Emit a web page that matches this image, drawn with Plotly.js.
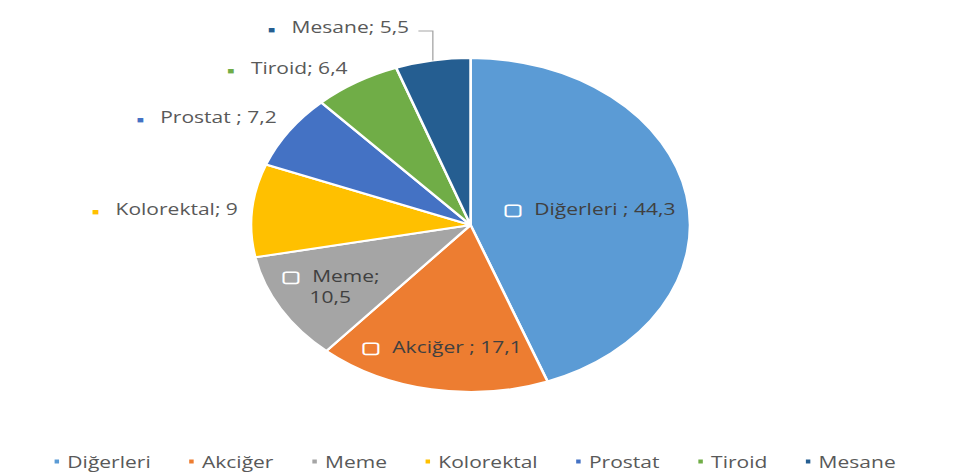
<!DOCTYPE html>
<html>
<head>
<meta charset="utf-8">
<script src="https://cdn.plot.ly/plotly-3.0.1.min.js"></script>
<style>
html,body{margin:0;padding:0;background:#fff;overflow:hidden;}
#wrap{width:958px;height:472px;overflow:hidden;position:relative;}
#chart{width:729px;height:472px;transform:scaleX(1.3141);transform-origin:0 0;}
</style>
</head>
<body>
<div id="wrap"><div id="chart"></div></div>
<script>
// ---- data ----
const categories = ['Diğerleri', 'Akciğer', 'Meme', 'Kolorektal', 'Prostat', 'Tiroid', 'Mesane'];
const values = [44.3, 17.1, 10.5, 9, 7.2, 6.4, 5.5];
const valueLabels = ['44,3', '17,1', '10,5', '9', '7,2', '6,4', '5,5'];
const separators = [' ; ', ' ; ', ';<br>', '; ', ' ; ', '; ', '; '];

// ---- style ----
const colors = ['#5B9BD5', '#ED7D31', '#A5A5A5', '#FFC000', '#4472C4', '#70AD47', '#255E91'];
const labelPlacement = ['inside', 'inside', 'inside', 'outside', 'outside', 'outside', 'leader'];
const labelRadius = [0.55, 0.74, 0.74, 1.1, 1.15, 1.1, 1.186];
const FONT = '"Open Sans", Lato, sans-serif';
const SX = 1.3141;               // horizontal stretch of the picture
const W = 729, H = 472;
const cx = 358.1, cy = 225, r = 167;

const trace = {
  type: 'pie',
  labels: categories,
  values: values,
  textinfo: 'none',
  sort: false,
  direction: 'clockwise',
  rotation: 0,
  marker: {colors: colors, line: {color: '#ffffff', width: 2}},
  domain: {x: [(cx - r) / W, (cx + r) / W], y: [1 - (cy + r) / H, 1 - (cy - r) / H]},
  hoverinfo: 'label+value',
  automargin: false
};

// data labels positioned along each slice's mid-angle (derived from the values)
const total = values.reduce((a, b) => a + b, 0);
const annotations = [];
const shapes = [];
let cum = 0;
values.forEach((v, i) => {
  const mid = (cum + v / 2) / total * 2 * Math.PI;
  cum += v;
  const s = Math.sin(mid), c = Math.cos(mid);
  const k = labelRadius[i];
  const body = categories[i] + separators[i] + valueLabels[i];
  if (labelPlacement[i] === 'inside') {
    annotations.push({
      xref: 'paper', yref: 'paper', x: (cx + r * k * s) / W, y: 1 - (cy - r * k * c) / H,
      xanchor: 'center', yanchor: 'middle', showarrow: false, borderpad: 0,
      text: '<span style="color:#ffffff"><b>▢</b></span>  ' + body,
      font: {family: FONT, size: 16, color: '#404040'}
    });
    return;
  }
  let px, py;
  if (labelPlacement[i] === 'outside') {
    px = cx + r * 1.06 * s; py = cy - r * k * c;
  } else {
    const ex = cx + r * s, ey = cy - r * c;
    py = cy - r * k;
    px = ex - 17;
    const ly = py + 4;
    shapes.push({type: 'path', xref: 'paper', yref: 'paper',
      path: 'M' + ((px + 6) / W) + ',' + (1 - ly / H) + 'L' + (ex / W) + ',' + (1 - ly / H) + 'L' + (ex / W) + ',' + (1 - ey / H),
      line: {color: '#A6A6A6', width: 1}});
  }
  annotations.push({
    xref: 'paper', yref: 'paper', x: px / W, y: 1 - py / H,
    xanchor: 'right', yanchor: 'middle', showarrow: false, borderpad: 0,
    text: '<span style="color:' + colors[i] + ';font-size:9px">■</span>   ' + body,
    font: {family: FONT, size: 16, color: '#595959'}
  });
});

const layout = {
  width: W, height: H,
  margin: {l: 0, r: 0, t: 0, b: 0, autoexpand: false},
  paper_bgcolor: '#ffffff',
  showlegend: true,
  legend: {
    orientation: 'h', x: 0.5, xanchor: 'center', y: 1 - 461.5 / H, yanchor: 'middle',
    font: {family: FONT, size: 16, color: '#595959'},
    traceorder: 'normal'
  },
  annotations: annotations,
  shapes: shapes,
  font: {family: FONT}
};

Plotly.newPlot('chart', [trace], layout, {displayModeBar: false, staticPlot: true}).then(gd => {
  // compact Excel-like legend: small keys, key close to text
  const items = Array.from(gd.querySelectorAll('.legend .traces'));
  const keyGap = 8, itemGap = 31;
  const parse = t => (t || 'translate(0,0)').match(/translate\(\s*([-\d.e]+)[ ,]+([-\d.e]+)/).slice(1).map(Number);
  items.forEach(it => {
    it.querySelector('.legendpoints path').setAttribute('d', 'M2.7,3H-2.7V-3H2.7Z');
  });
  let x = null;
  items.forEach(it => {
    const p = it.querySelector('.legendpoints path').getBoundingClientRect();
    const t = it.querySelector('.legendtext');
    const tb = t.getBoundingClientRect();
    const symC = (p.left + p.right) / 2;
    const dx = (tb.left - symC) / SX - keyGap;
    t.setAttribute('transform', 'translate(' + (-dx) + ',0)');
    const tr = parse(it.getAttribute('transform'));
    if (x === null) x = tr[0];
    it.setAttribute('transform', 'translate(' + x + ',' + tr[1] + ')');
    x += keyGap + (tb.right - tb.left) / SX + itemGap;
  });
  const first = items[0].querySelector('.legendpoints path').getBoundingClientRect();
  const last = items[items.length - 1].querySelector('.legendtext').getBoundingClientRect();
  const shift = (474.5 - (first.left + last.right) / 2) / SX;
  items.forEach(it => {
    const tr = parse(it.getAttribute('transform'));
    it.setAttribute('transform', 'translate(' + (tr[0] + shift) + ',' + tr[1] + ')');
  });
});
</script>
</body>
</html>
